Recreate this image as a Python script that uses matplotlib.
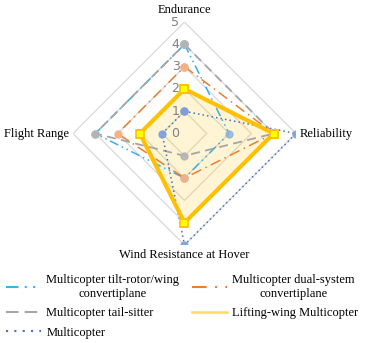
import numpy as np
import matplotlib as mpl

mpl.use("Agg")

import matplotlib.pyplot as plt
from matplotlib.transforms import offset_copy

plt.rcParams["font.family"] = ["Liberation Serif", "DejaVu Serif"]

axis_names = ["Endurance", "Reliability", "Wind Resistance at Hover", "Flight Range"]

tilt_rotor = [4, 2, 2, 4]
dual_system = [3, 4, 2, 3]
tail_sitter = [4, 4, 1, 4]
lifting_wing = [2, 4, 4, 2]
multicopter = [1, 5, 5, 1]

grid_levels = [1, 2, 3, 4, 5]


def closed(values):
    return list(values) + [values[0]]


angles = np.linspace(0, 2 * np.pi, len(axis_names), endpoint=False)
ang = closed(angles)

fig = plt.figure(figsize=(3.67, 3.43), dpi=100)
ax = fig.add_axes([0.1975, 0.2857, 0.6104, 0.650], projection="polar")
ax.set_theta_offset(np.pi / 2)
ax.set_theta_direction(-1)
ax.set_ylim(0, 5)
ax.grid(False)
ax.spines["polar"].set_visible(False)
ax.set_xticks([])
ax.set_yticks([])
ax.patch.set_alpha(0)

# diamond grid
for r in grid_levels:
    ax.plot(ang, [r] * len(ang), color="#d9d9d9", lw=0.9, zorder=1)

# radial labels
lab_tr = offset_copy(ax.transData, fig=fig, x=-5, y=0, units="dots")
for r in [0] + grid_levels:
    ax.text(0, r, str(r), transform=lab_tr, ha="right", va="center",
            fontsize=9, color="#7f7f7f", family="DejaVu Sans", zorder=6)

# series
tilt, = ax.plot(ang, closed(tilt_rotor), color="#3aaee8", lw=1.1,
                linestyle=(0, (6, 2.5, 1, 2.5, 1, 2.5)), zorder=3,
                label="Multicopter tilt-rotor/wing\nconvertiplane")
ax.plot(ang, closed(tilt_rotor), "o", ms=5, color="#8fb4dc", alpha=0.85, zorder=3)

dual, = ax.plot(ang, closed(dual_system), color="#ed7d31", lw=1.1,
                linestyle=(0, (7, 3, 1, 3)), zorder=3,
                label="Multicopter dual-system\nconvertiplane")
ax.plot(ang, closed(dual_system), "o", ms=5, color="#f4b183", alpha=0.95, zorder=3)

tail, = ax.plot(ang, closed(tail_sitter), color="#a5a5a5", lw=1.3,
                linestyle=(0, (5, 3)), zorder=3, label="Multicopter tail-sitter")
ax.plot(ang, closed(tail_sitter), "o", ms=5, color="#b4b4b4", alpha=0.9, zorder=3)

ax.fill(ang, closed(lifting_wing), color="#ffc000", alpha=0.17, zorder=2)
lift, = ax.plot(ang, closed(lifting_wing), color="#ffc000", lw=3, zorder=4,
                label="Lifting-wing Multicopter")
ax.plot(ang, closed(lifting_wing), "s", ms=6, mfc="#ffff00", mec="#ffc000",
        mew=1.2, zorder=5)

multi, = ax.plot(ang, closed(multicopter), color="#4472c4", lw=1.1,
                 linestyle=(0, (1, 2)), zorder=3, label="Multicopter")
ax.plot(ang, closed(multicopter), "o", ms=5, color="#7f9fd8", alpha=0.9, zorder=3)

# axis names
def place(i, dx, dy, ha, va):
    tr = offset_copy(ax.transData, fig=fig, x=dx, y=dy, units="dots")
    ax.text(angles[i], 5, axis_names[i], transform=tr, ha=ha, va=va,
            fontsize=9, color="black")

place(0, 0, 6, "center", "bottom")
place(1, 4, 0, "left", "center")
place(2, 0, -4, "center", "top")
place(3, -4, 0, "right", "center")

leg_tilt = mpl.lines.Line2D([], [], color="#33b5f0", lw=1.5,
                            linestyle=(0, (6, 3, 1, 3, 1, 3)))
leg_dual = mpl.lines.Line2D([], [], color="#ed7d31", lw=1.5,
                            linestyle=(0, (7, 4, 1, 4)))
leg_tail = mpl.lines.Line2D([], [], color="#a5a5a5", lw=1.5, linestyle=(0, (6, 3)))
leg_lift = mpl.lines.Line2D([], [], color="#ffd966", lw=1.8)
leg_multi = mpl.lines.Line2D([], [], color="#4472c4", lw=1.5, linestyle=(0, (1, 3)))

leg = fig.legend(
    [leg_tilt, leg_tail, leg_multi, leg_dual, leg_lift],
    [tilt.get_label(), tail.get_label(), multi.get_label(),
     dual.get_label(), lift.get_label()],
    ncol=2, loc="upper left", bbox_to_anchor=(0.012, 0.205),
    frameon=False, fontsize=9, handlelength=2.8, handletextpad=0.45,
    columnspacing=1.0, labelspacing=0.6, borderaxespad=0.0, borderpad=0.1,
)
for t in leg.get_texts():
    t.set_multialignment("center")

fig.savefig("out.png", dpi=100)
